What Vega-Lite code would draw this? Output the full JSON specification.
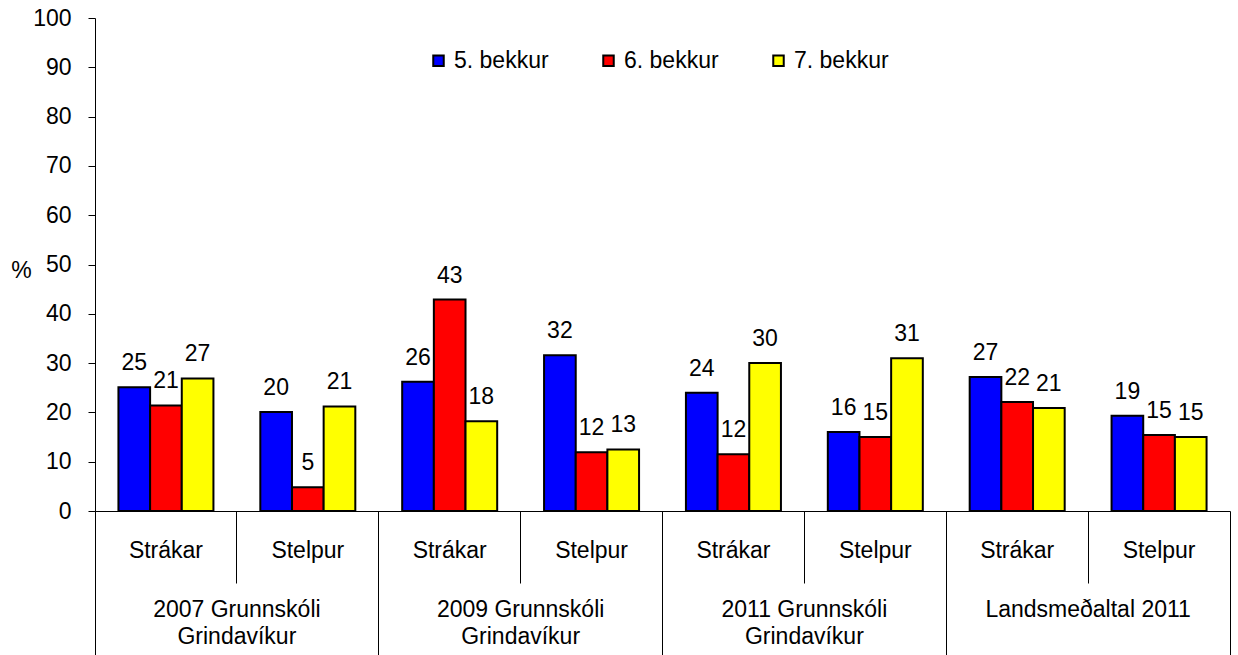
{
  "$schema": "https://vega.github.io/schema/vega-lite/v6.json",
  "width": 1135,
  "height": 493,
  "autosize": {"type": "none"},
  "padding": {"left": 95, "top": 18, "right": 8, "bottom": 144},
  "background": "white",
  "config": {
    "view": {"stroke": null},
    "font": "Liberation Sans",
    "axis": {"labelFont": "Liberation Sans", "labelFontSize": 23, "labelColor": "black", "tickColor": "black", "domainColor": "black", "grid": false, "titleFont": "Liberation Sans", "titleFontWeight": "normal", "titleFontSize": 23, "titleColor": "black", "labelLimit": 0},
    "legend": {"labelFont": "Liberation Sans", "labelFontSize": 23, "labelColor": "black", "labelLimit": 0}
  },
  "data": {
    "values": [
      {"group": "2007 Grunnskóli|Grindavíkur", "key": "2007|Strákar", "grade": "5. bekkur", "value": 25.1},
      {"group": "2007 Grunnskóli|Grindavíkur", "key": "2007|Strákar", "grade": "6. bekkur", "value": 21.4},
      {"group": "2007 Grunnskóli|Grindavíkur", "key": "2007|Strákar", "grade": "7. bekkur", "value": 26.9},
      {"group": "2007 Grunnskóli|Grindavíkur", "key": "2007|Stelpur", "grade": "5. bekkur", "value": 20.1},
      {"group": "2007 Grunnskóli|Grindavíkur", "key": "2007|Stelpur", "grade": "6. bekkur", "value": 4.8},
      {"group": "2007 Grunnskóli|Grindavíkur", "key": "2007|Stelpur", "grade": "7. bekkur", "value": 21.2},
      {"group": "2009 Grunnskóli|Grindavíkur", "key": "2009|Strákar", "grade": "5. bekkur", "value": 26.2},
      {"group": "2009 Grunnskóli|Grindavíkur", "key": "2009|Strákar", "grade": "6. bekkur", "value": 42.9},
      {"group": "2009 Grunnskóli|Grindavíkur", "key": "2009|Strákar", "grade": "7. bekkur", "value": 18.2},
      {"group": "2009 Grunnskóli|Grindavíkur", "key": "2009|Stelpur", "grade": "5. bekkur", "value": 31.6},
      {"group": "2009 Grunnskóli|Grindavíkur", "key": "2009|Stelpur", "grade": "6. bekkur", "value": 11.9},
      {"group": "2009 Grunnskóli|Grindavíkur", "key": "2009|Stelpur", "grade": "7. bekkur", "value": 12.5},
      {"group": "2011 Grunnskóli|Grindavíkur", "key": "2011|Strákar", "grade": "5. bekkur", "value": 24.0},
      {"group": "2011 Grunnskóli|Grindavíkur", "key": "2011|Strákar", "grade": "6. bekkur", "value": 11.5},
      {"group": "2011 Grunnskóli|Grindavíkur", "key": "2011|Strákar", "grade": "7. bekkur", "value": 30.0},
      {"group": "2011 Grunnskóli|Grindavíkur", "key": "2011|Stelpur", "grade": "5. bekkur", "value": 16.0},
      {"group": "2011 Grunnskóli|Grindavíkur", "key": "2011|Stelpur", "grade": "6. bekkur", "value": 15.0},
      {"group": "2011 Grunnskóli|Grindavíkur", "key": "2011|Stelpur", "grade": "7. bekkur", "value": 31.0},
      {"group": "Landsmeðaltal 2011", "key": "Lands|Strákar", "grade": "5. bekkur", "value": 27.2},
      {"group": "Landsmeðaltal 2011", "key": "Lands|Strákar", "grade": "6. bekkur", "value": 22.1},
      {"group": "Landsmeðaltal 2011", "key": "Lands|Strákar", "grade": "7. bekkur", "value": 20.9},
      {"group": "Landsmeðaltal 2011", "key": "Lands|Stelpur", "grade": "5. bekkur", "value": 19.3},
      {"group": "Landsmeðaltal 2011", "key": "Lands|Stelpur", "grade": "6. bekkur", "value": 15.4},
      {"group": "Landsmeðaltal 2011", "key": "Lands|Stelpur", "grade": "7. bekkur", "value": 15.0}
    ]
  },
  "resolve": {"scale": {"x": "independent"}, "axis": {"x": "independent"}},
  "layer": [
    {
      "mark": {"type": "bar", "stroke": "black", "strokeWidth": 2},
      "encoding": {
        "x": {
          "field": "key", "type": "nominal",
          "sort": ["2007|Strákar", "2007|Stelpur", "2009|Strákar", "2009|Stelpur", "2011|Strákar", "2011|Stelpur", "Lands|Strákar", "Lands|Stelpur"],
          "scale": {"paddingInner": 0, "paddingOuter": 0},
          "axis": {"orient": "bottom", "title": null, "labelAngle": 0, "bandPosition": 0, "tickSize": 72, "labelBaseline": "alphabetic", "labelPadding": -26, "labelExpr": "split(datum.value, '|')[1]", "domainWidth": 1, "tickWidth": 1}
        },
        "xOffset": {"field": "grade", "type": "nominal", "scale": {"paddingInner": 0, "paddingOuter": 0.74}},
        "y": {
          "field": "value", "type": "quantitative",
          "scale": {"domain": [0, 100], "nice": false},
          "axis": {"values": [0, 10, 20, 30, 40, 50, 60, 70, 80, 90, 100], "tickSize": 7, "labelPadding": 17, "title": "%", "titleAngle": 0, "titleAlign": "center", "titleBaseline": "middle", "titleX": -74, "titleY": 252, "domainWidth": 1}
        },
        "color": {
          "field": "grade", "type": "nominal",
          "scale": {"domain": ["5. bekkur", "6. bekkur", "7. bekkur"], "range": ["#0000FF", "#FF0000", "#FFFF00"]},
          "legend": {"title": null, "orient": "none", "direction": "horizontal", "legendX": 332, "legendY": 31, "symbolType": "square", "symbolSize": 110, "symbolStrokeColor": "black", "symbolStrokeWidth": 2, "symbolOpacity": 1, "labelOffset": 4, "columnPadding": 48}
        }
      }
    },
    {
      "mark": {"type": "text", "font": "Liberation Sans", "fontSize": 23, "color": "black", "baseline": "alphabetic", "dy": -17},
      "encoding": {
        "x": {
          "field": "key", "type": "nominal",
          "sort": ["2007|Strákar", "2007|Stelpur", "2009|Strákar", "2009|Stelpur", "2011|Strákar", "2011|Stelpur", "Lands|Strákar", "Lands|Stelpur"],
          "scale": {"paddingInner": 0, "paddingOuter": 0},
          "axis": null
        },
        "xOffset": {"field": "grade", "type": "nominal"},
        "y": {"field": "value", "type": "quantitative"},
        "text": {"field": "value", "type": "quantitative", "format": ".0f"}
      }
    },
    {
      "mark": {"type": "bar", "opacity": 0},
      "encoding": {
        "x": {
          "field": "group", "type": "nominal",
          "sort": ["2007 Grunnskóli|Grindavíkur", "2009 Grunnskóli|Grindavíkur", "2011 Grunnskóli|Grindavíkur", "Landsmeðaltal 2011"],
          "scale": {"paddingInner": 0, "paddingOuter": 0},
          "axis": {"orient": "bottom", "title": null, "labelAngle": 0, "bandPosition": 0, "tickSize": 144, "domain": false, "labelBaseline": "alphabetic", "labelPadding": -39, "labelLineHeight": 27, "labelExpr": "split(datum.value, '|')", "tickWidth": 1}
        },
        "y": {"field": "value", "type": "quantitative"}
      }
    },
    {
      "mark": {"type": "bar", "opacity": 0},
      "encoding": {
        "x": {
          "field": "group", "type": "nominal",
          "sort": ["2007 Grunnskóli|Grindavíkur", "2009 Grunnskóli|Grindavíkur", "2011 Grunnskóli|Grindavíkur", "Landsmeðaltal 2011"],
          "scale": {"paddingInner": 0, "paddingOuter": 0},
          "axis": {"orient": "bottom", "title": null, "bandPosition": 1, "tickSize": 144, "domain": false, "labels": false, "tickWidth": 1}
        },
        "y": {"field": "value", "type": "quantitative"}
      }
    }
  ]
}
